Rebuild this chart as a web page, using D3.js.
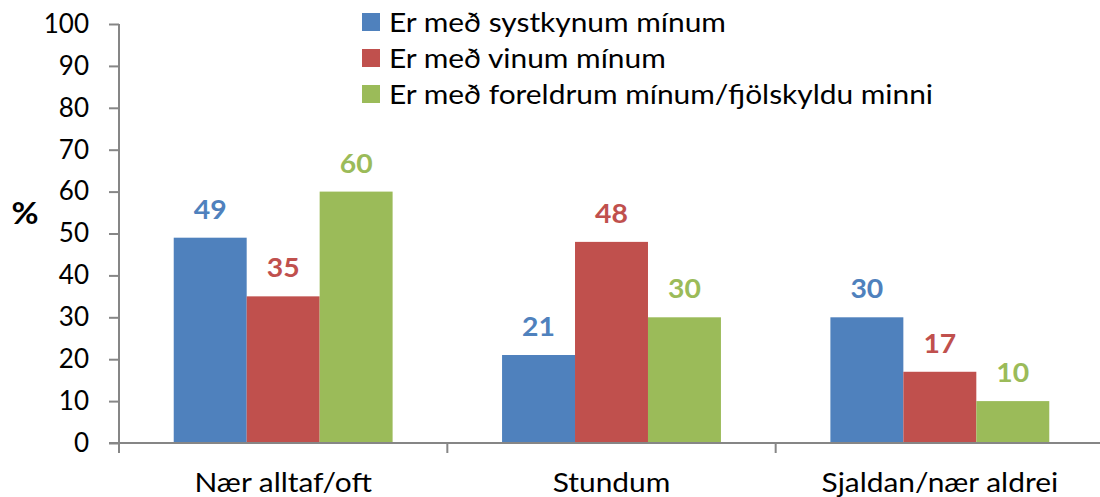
<!DOCTYPE html>
<html>
<head>
<meta charset="utf-8">
<script src="https://cdn.jsdelivr.net/npm/d3@7"></script>
<style>
  html, body { margin: 0; padding: 0; background: #fff; }
  svg { display: block; font-family: Lato, "Open Sans", sans-serif; }
</style>
</head>
<body>
<svg id="chart" width="1100" height="497"></svg>
<script>
// Answer categories along the x axis
const categories = ["Nær alltaf/oft", "Stundum", "Sjaldan/nær aldrei"];
// Series (legend entries)
const seriesNames = ["Er með systkynum mínum", "Er með vinum mínum", "Er með foreldrum mínum/fjölskyldu minni"];
// Percentages per series, in category order
const systkini = [49, 21, 30];
const vinir = [35, 48, 17];
const foreldrar = [60, 30, 10];
// Y axis ticks
const yTicks = [0, 10, 20, 30, 40, 50, 60, 70, 80, 90, 100];

const seriesValues = [systkini, vinir, foreldrar];
const colors = ["#4F81BD", "#C0504D", "#9BBB59"];
const axisColor = "#868686";

const svg = d3.select("#chart");

// Text drawn with a slight horizontal widening, anchored at (x, y)
function wideText(parent, x, y, sx, str, anchor) {
  return parent.append("g")
    .attr("transform", `translate(${x},${y}) scale(${sx},1)`)
    .append("text")
    .attr("text-anchor", anchor || "start")
    .text(str);
}

const y = d3.scaleLinear().domain([0, 100]).range([443, 24]);
const x0 = d3.scaleBand().domain(categories).range([119, 1104]).paddingInner(0).paddingOuter(0);
const x1 = d3.scaleBand().domain(d3.range(seriesNames.length))
  .range([0, x0.bandwidth()]).paddingInner(0).paddingOuter(0.75);

// Bars and value labels
const groups = svg.append("g").selectAll("g")
  .data(categories)
  .join("g")
  .attr("transform", c => `translate(${x0(c)},0)`);

groups.each(function(c, ci) {
  const g = d3.select(this);
  seriesValues.forEach((vals, si) => {
    const v = vals[ci];
    g.append("rect")
      .attr("x", x1(si))
      .attr("y", y(v))
      .attr("width", x1.bandwidth())
      .attr("height", y(0) - y(v))
      .attr("fill", colors[si]);
    wideText(g, x1(si) + x1.bandwidth() / 2, y(v) - 19, 1.05, v, "middle")
      .attr("font-size", 27)
      .attr("font-weight", "bold")
      .attr("fill", colors[si]);
  });
});

// Y axis
const yAxis = svg.append("g")
  .attr("transform", "translate(119,0)")
  .call(d3.axisLeft(y).tickValues(yTicks).tickSize(10).tickSizeOuter(0).tickPadding(20));
yAxis.select(".domain").remove();
yAxis.selectAll(".tick line").attr("stroke", axisColor).attr("stroke-width", 2);
yAxis.selectAll(".tick text").attr("font-size", 26).attr("fill", "#000")
  .attr("font-family", "Lato, 'Open Sans', sans-serif");
yAxis.append("line")
  .attr("x1", 0).attr("x2", 0)
  .attr("y1", y(100)).attr("y2", y(0) + 10)
  .attr("stroke", axisColor).attr("stroke-width", 2);

// X axis line and category boundary ticks
const xAxis = svg.append("g");
xAxis.append("line")
  .attr("x1", 109).attr("x2", x0.range()[1])
  .attr("y1", y(0)).attr("y2", y(0))
  .attr("stroke", axisColor).attr("stroke-width", 2);
const bounds = categories.map(c => x0(c)).concat([x0.range()[1]]);
xAxis.selectAll("line.bound")
  .data(bounds)
  .join("line")
  .attr("class", "bound")
  .attr("x1", d => d).attr("x2", d => d)
  .attr("y1", y(0)).attr("y2", y(0) + 10)
  .attr("stroke", axisColor).attr("stroke-width", 2);
categories.forEach(c => {
  wideText(xAxis, x0(c) + x0.bandwidth() / 2, 492, 1.15, c, "middle")
    .attr("font-size", 26)
    .attr("fill", "#000");
});

// Y axis title
wideText(svg, 25, 224, 1.1, "%", "middle")
  .attr("font-size", 30)
  .attr("font-weight", "bold");

// Legend
const legend = svg.append("g");
seriesNames.forEach((name, i) => {
  const top = 13 + i * 36;
  legend.append("rect")
    .attr("x", 362).attr("y", top)
    .attr("width", 18).attr("height", 18)
    .attr("fill", colors[i]);
  wideText(legend, 389, top + 18.5, 1.15, name, "start")
    .attr("font-size", 26)
    .attr("fill", "#000");
});
</script>
</body>
</html>
